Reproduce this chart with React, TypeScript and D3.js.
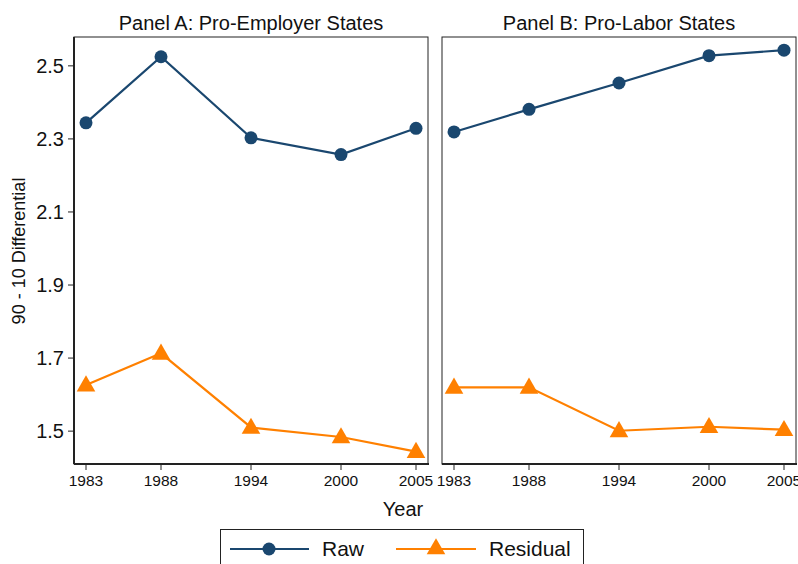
import React from "react";
import * as d3 from "d3";

// Survey years and 90-10 log wage differentials
const years = [1983, 1988, 1994, 2000, 2005];
const panelTitles = ["Panel A: Pro-Employer States", "Panel B: Pro-Labor States"];
const rawEmployer = [2.344, 2.525, 2.303, 2.257, 2.329];
const residualEmployer = [1.626, 1.713, 1.510, 1.484, 1.444];
const rawLabor = [2.319, 2.381, 2.453, 2.528, 2.543];
const residualLabor = [1.620, 1.620, 1.501, 1.512, 1.504];
const yTicks = [1.5, 1.7, 1.9, 2.1, 2.3, 2.5];
const seriesNames = ["Raw", "Residual"];

const NAVY = "#1a476f";
const ORANGE = "#ff8000";
const FONT = "Liberation Sans, Arial, sans-serif";

const W = 798;
const H = 564;
const TOP = 37;
const BOTTOM = 464;

const panels = [
  { left: 74, right: 428, raw: rawEmployer, residual: residualEmployer, showY: true },
  { left: 442, right: 796, raw: rawLabor, residual: residualLabor, showY: false },
];

const y = d3.scaleLinear().domain([1.41, 2.579]).range([BOTTOM, TOP]);

function Triangle({ cx, cy, size, color }: { cx: number; cy: number; size: number; color: string }) {
  const sym = d3.symbol().type(d3.symbolTriangle).size(size)();
  return <path d={sym || ""} transform={`translate(${cx},${cy + 1})`} fill={color} />;
}

export default function App() {
  return (
    <svg width={W} height={H} style={{ position: "absolute", left: 0, top: 0 }} fontFamily={FONT}>
      <rect x={0} y={0} width={W} height={H} fill="#fff" />
      {panels.map((p, i) => {
        const x = d3.scaleLinear().domain([1983, 2005]).range([p.left + 12, p.right - 12]);
        const line = d3
          .line<number>()
          .x((_, j) => x(years[j]))
          .y((v) => y(v));
        return (
          <g key={i}>
            <text x={(p.left + p.right) / 2} y={30} textAnchor="middle" fontSize={20} fill="#111">
              {panelTitles[i]}
            </text>
            <rect x={p.left} y={TOP} width={p.right - p.left} height={BOTTOM - TOP} fill="none" stroke="#222" strokeWidth={1} />
            <line x1={p.left} x2={p.right + 1} y1={BOTTOM} y2={BOTTOM} stroke="#222" strokeWidth={2} />
            {p.showY && <line x1={p.left} x2={p.left} y1={TOP} y2={BOTTOM} stroke="#222" strokeWidth={2} />}
            {p.showY &&
              yTicks.map((t) => (
                <g key={t}>
                  <line x1={p.left - 6} x2={p.left} y1={y(t)} y2={y(t)} stroke="#222" strokeWidth={1} />
                  <text x={p.left - 10} y={y(t) + 7} textAnchor="end" fontSize={20} fill="#111">
                    {t.toFixed(1)}
                  </text>
                </g>
              ))}
            {years.map((yr) => (
              <g key={yr}>
                <line x1={x(yr)} x2={x(yr)} y1={BOTTOM} y2={BOTTOM + 6} stroke="#222" strokeWidth={1} />
                <text x={x(yr)} y={486} textAnchor="middle" fontSize={15.5} fill="#111">
                  {yr}
                </text>
              </g>
            ))}
            <path d={line(p.raw) || ""} fill="none" stroke={NAVY} strokeWidth={2.2} />
            {p.raw.map((v, j) => (
              <circle key={j} cx={x(years[j])} cy={y(v)} r={6.5} fill={NAVY} />
            ))}
            <path d={line(p.residual) || ""} fill="none" stroke={ORANGE} strokeWidth={2.2} />
            {p.residual.map((v, j) => (
              <Triangle key={j} cx={x(years[j])} cy={y(v)} size={150} color={ORANGE} />
            ))}
          </g>
        );
      })}
      <text
        transform={`translate(25,251) rotate(-90)`}
        textAnchor="middle"
        fontSize={18}
        fill="#111"
      >
        90 - 10 Differential
      </text>
      <text x={403} y={516} textAnchor="middle" fontSize={20} fill="#111">
        Year
      </text>
      {/* Legend */}
      <g>
        <rect x={220.5} y={529.5} width={363} height={40} fill="#fff" stroke="#222" strokeWidth={1} />
        <line x1={230} x2={309} y1={549} y2={549} stroke={NAVY} strokeWidth={2.2} />
        <circle cx={269} cy={549} r={6.5} fill={NAVY} />
        <text x={322} y={556} fontSize={21} fill="#111">
          {seriesNames[0]}
        </text>
        <line x1={396} x2={476} y1={549} y2={549} stroke={ORANGE} strokeWidth={2.2} />
        <Triangle cx={436} cy={548} size={150} color={ORANGE} />
        <text x={489} y={556} fontSize={21} fill="#111">
          {seriesNames[1]}
        </text>
      </g>
    </svg>
  );
}
